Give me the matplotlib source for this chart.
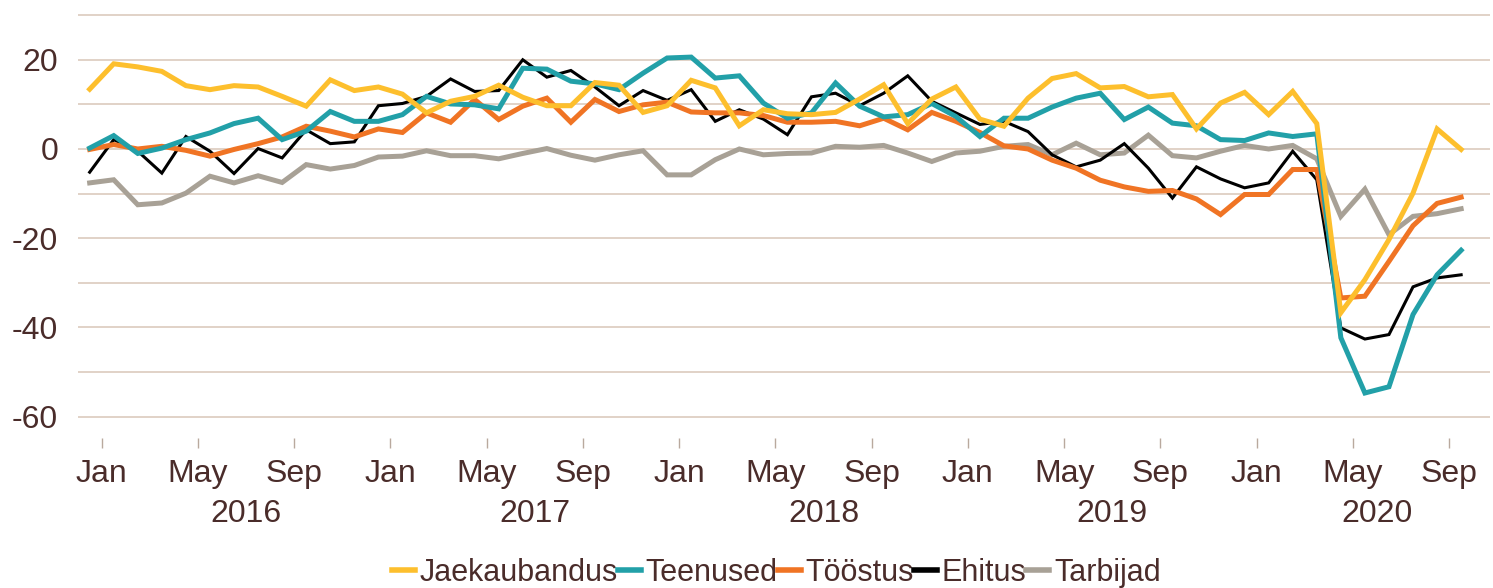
import matplotlib
matplotlib.use('Agg')
import matplotlib.pyplot as plt
import matplotlib.transforms as mtransforms
import numpy as np

plt.rcParams['font.family'] = ['Liberation Sans', 'DejaVu Sans']
plt.rcParams['axes.unicode_minus'] = False

# monthly values (58 points)
jaekaubandus = [13.4, 19.1, 18.4, 17.4, 14.2, 13.3, 14.2, 13.9, 11.8, 9.6,
                15.5, 13.1, 13.9, 12.3, 8.1, 10.7, 11.8, 14.3, 11.6, 9.7,
                9.7, 14.9, 14.3, 8.2, 9.7, 15.4, 13.7, 5.2, 8.8, 7.9,
                7.7, 8.2, 11.2, 14.4, 5.7, 11.2, 13.9, 6.7, 5.1, 11.4,
                15.8, 16.9, 13.7, 14.0, 11.7, 12.2, 4.5, 10.3, 12.7, 7.7,
                12.9, 5.7, -36.7, -29.3, -20.3, -9.9, 4.5, -0.1]
teenused = [0.2, 3.0, -1.0, 0.2, 2.1, 3.6, 5.7, 6.9, 2.1, 4.0,
            8.4, 6.2, 6.2, 7.7, 11.8, 10.1, 9.9, 9.0, 18.1, 17.9,
            15.2, 14.6, 13.3, 17.0, 20.4, 20.6, 15.9, 16.4, 10.3, 6.9,
            8.1, 14.8, 9.6, 7.2, 7.7, 10.2, 7.3, 2.8, 6.9, 6.9,
            9.4, 11.4, 12.5, 6.6, 9.4, 5.8, 5.2, 2.1, 1.9, 3.6,
            2.8, 3.4, -42.3, -54.7, -53.3, -37.1, -28.2, -22.7]
toostus = [-0.1, 1.0, 0.0, 0.6, -0.3, -1.6, -0.1, 1.2, 2.7, 5.1,
           4.0, 2.7, 4.5, 3.7, 8.1, 6.0, 11.1, 6.6, 9.6, 11.4,
           6.0, 11.1, 8.4, 9.9, 10.5, 8.3, 8.1, 8.1, 7.5, 6.0,
           6.0, 6.2, 5.2, 6.9, 4.3, 8.2, 6.2, 3.7, 0.7, 0.0,
           -2.5, -4.3, -7.0, -8.5, -9.5, -9.3, -11.2, -14.7, -10.2, -10.2,
           -4.6, -4.6, -33.4, -33.0, -25.2, -17.2, -12.2, -10.8]
ehitus = [-5.2, 2.1, -0.5, -5.4, 2.8, -0.5, -5.5, 0.1, -2.0, 4.3,
          1.2, 1.6, 9.7, 10.2, 11.8, 15.7, 12.9, 13.1, 20.0, 16.1,
          17.6, 13.9, 9.7, 13.1, 10.9, 13.3, 6.2, 8.8, 6.7, 3.2,
          11.7, 12.5, 9.7, 12.5, 16.4, 10.7, 8.1, 5.5, 6.2, 3.9,
          -1.3, -4.0, -2.5, 1.2, -4.3, -11.0, -4.0, -6.7, -8.7, -7.6,
          -0.5, -6.9, -40.1, -42.6, -41.6, -30.9, -28.9, -28.2]
tarbijad = [-7.6, -6.9, -12.5, -12.1, -9.9, -6.1, -7.6, -6.0, -7.5, -3.5,
            -4.5, -3.7, -1.8, -1.6, -0.4, -1.5, -1.5, -2.2, -1.0, 0.1,
            -1.4, -2.5, -1.3, -0.4, -5.8, -5.8, -2.4, 0.0, -1.3, -1.0,
            -0.9, 0.6, 0.4, 0.8, -0.9, -2.8, -0.9, -0.5, 0.6, 1.0,
            -1.3, 1.3, -1.3, -0.9, 3.1, -1.5, -2.0, -0.5, 0.8, 0.0,
            0.8, -2.2, -15.1, -9.0, -19.2, -15.1, -14.5, -13.4]

series_names = ['Jaekaubandus', 'Teenused', 'Tööstus', 'Ehitus', 'Tarbijad']
month_labels = ['Jan', 'May', 'Sep'] * 5
year_labels = ['2016', '2017', '2018', '2019', '2020']

series = [jaekaubandus, teenused, toostus, ehitus, tarbijad]
colors = ['#FDBF2D', '#22A0A8', '#F07424', '#000000', '#A8A196']
widths = [3.6, 3.6, 3.6, 2.2, 3.6]
text_col = '#4a2c2a'
grid_col = '#DCCBBE'

n = len(jaekaubandus)
x = np.arange(n)

fig = plt.figure(figsize=(14.93, 5.88), dpi=100)
ax = fig.add_axes([0.052, 0.255, 0.946, 0.723])

handles = [None] * len(series)
# draw in reverse so the first series sits on top
for i in reversed(range(len(series))):
    l, = ax.plot(x, series[i], color=colors[i], lw=widths[i],
                 solid_joinstyle='miter', label=series_names[i], zorder=3 + len(series) - i)
    handles[i] = l

ax.set_xlim(-0.5, 58.2)
ax.set_ylim(-64.8, 30.5)

ax.set_yticks([-60, -40, -20, 0, 20])
ax.set_yticks(np.arange(-60, 31, 10), minor=True)
ax.yaxis.grid(True, which='both', color=grid_col, lw=1.2)
ax.set_axisbelow(True)
ax.tick_params(axis='y', which='both', length=0, pad=14, labelsize=23, labelcolor=text_col)

tick_pos = 0.5 + 4 * np.arange(len(month_labels))
ax.set_xticks(tick_pos)
ax.set_xticklabels(month_labels)
ax.tick_params(axis='x', length=7, width=1, color='#B9A99E', pad=8,
               labelsize=23, labelcolor=text_col)

for s in ax.spines.values():
    s.set_visible(False)

# year labels centred under their months
trans = mtransforms.blended_transform_factory(ax.transData, fig.transFigure)
for j, yl in enumerate(year_labels):
    start = 0.5 + 12 * j
    end = min(start + 12, n + 0.5)
    ax.text((start + end) / 2, 0.126, yl, transform=trans, ha='center', va='center',
            fontsize=23, color=text_col, clip_on=False)

leg = fig.legend(handles, series_names, loc='center', bbox_to_anchor=(0.52, 0.026),
                 ncol=5, frameon=False, fontsize=22, handlelength=0.75,
                 handletextpad=0.16, columnspacing=0.0, borderpad=0)
for t in leg.get_texts():
    t.set_color(text_col)
for lh in leg.get_lines():
    lh.set_linewidth(4)

fig.savefig('out.png', dpi=100)
